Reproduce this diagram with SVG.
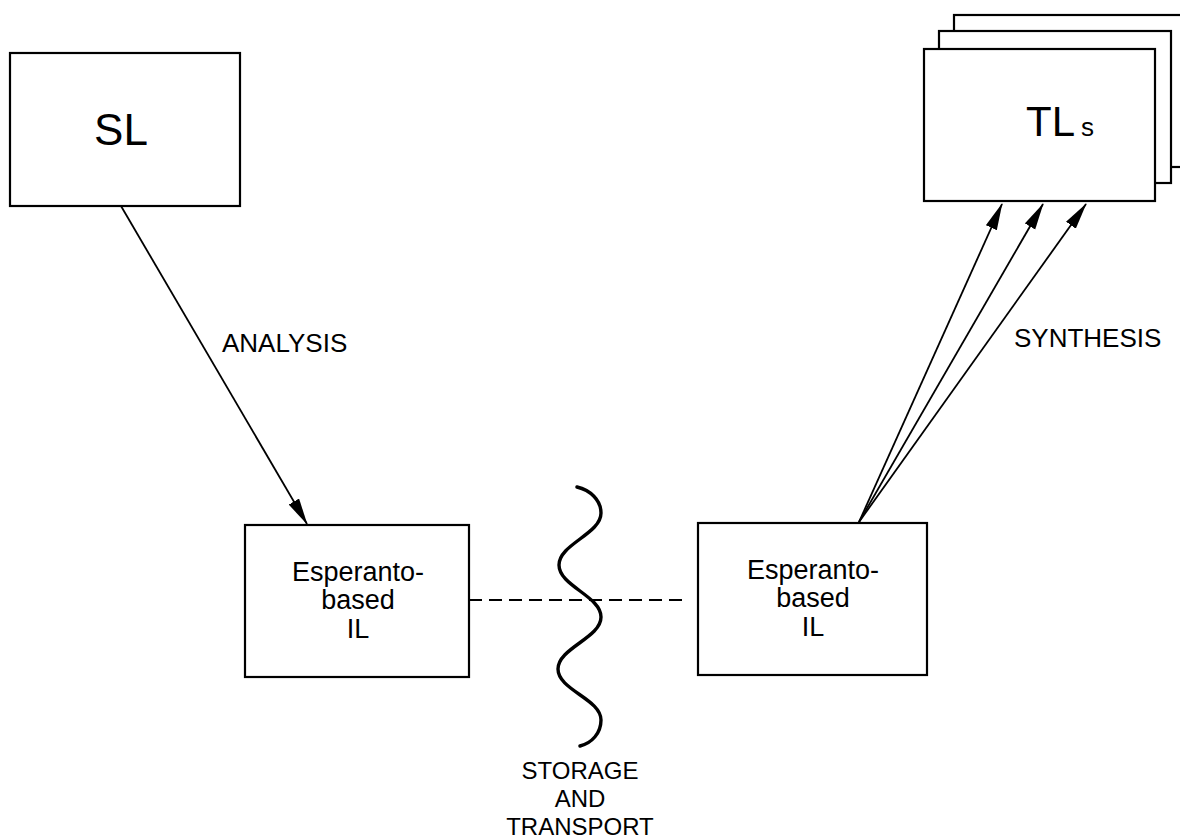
<svg xmlns="http://www.w3.org/2000/svg" width="1180" height="840" viewBox="0 0 1180 840">
<style>
text{font-family:"Liberation Sans",Arial,sans-serif;fill:#000}
.box{fill:#fff;stroke:#000;stroke-width:2.2}
.lbl{font-size:26px}
.st{font-size:24px;text-anchor:middle}
.il{font-size:27px;text-anchor:middle}
.conn{stroke:#000;stroke-width:1.8;fill:none}
</style>
<defs>
<marker id="ah" markerUnits="userSpaceOnUse" markerWidth="30" markerHeight="14" refX="26" refY="6" orient="auto">
<path d="M0,0 L27,6 L0,12 Z" fill="#000"/>
</marker>
</defs>
<rect width="1180" height="840" fill="#fff"/>
<g id="sl">
<rect class="box" x="10" y="53" width="230" height="153"/>
<text x="121" y="145" font-size="44" text-anchor="middle">SL</text>
</g>
<g id="tls">
<rect class="box" x="954" y="15" width="240" height="152"/>
<rect class="box" x="939" y="31" width="232" height="152"/>
<rect class="box" x="924" y="49" width="231" height="152"/>
<text x="1026" y="136" font-size="42">TL</text>
<text x="1081" y="136" font-size="26">s</text>
</g>
<g id="il-left">
<rect class="box" x="245" y="525" width="224" height="152"/>
<text class="il" x="358" y="581">Esperanto-</text>
<text class="il" x="358" y="609">based</text>
<text class="il" x="358" y="638">IL</text>
</g>
<g id="il-right">
<rect class="box" x="698" y="523" width="229" height="152"/>
<text class="il" x="813" y="579">Esperanto-</text>
<text class="il" x="813" y="607">based</text>
<text class="il" x="813" y="636">IL</text>
</g>
<g id="connectors">
<line class="conn" x1="121" y1="206" x2="307" y2="524" marker-end="url(#ah)"/>
<line class="conn" x1="859" y1="522" x2="1002" y2="204" marker-end="url(#ah)"/>
<line class="conn" x1="859" y1="522" x2="1043" y2="204" marker-end="url(#ah)"/>
<line class="conn" x1="859" y1="522" x2="1086" y2="204" marker-end="url(#ah)"/>
<line class="conn" x1="469" y1="600" x2="685" y2="600" stroke-width="1.6" stroke-dasharray="13 7"/>
</g>
<g id="storage">
<path d="M577,487 C590,490 601,500 601,513 C601,534 559,544 559,565 C559,586 601,596 601,617 C601,638 558,648 558,669 C558,690 601,699 601,720 C601,733 592,743 580,746" fill="none" stroke="#000" stroke-width="3.4" stroke-linecap="round"/>
<text class="st" x="580" y="779">STORAGE</text>
<text class="st" x="580" y="807">AND</text>
<text class="st" x="580" y="835">TRANSPORT</text>
</g>
<text class="lbl" x="222" y="352">ANALYSIS</text>
<text class="lbl" x="1014" y="347">SYNTHESIS</text>
</svg>
